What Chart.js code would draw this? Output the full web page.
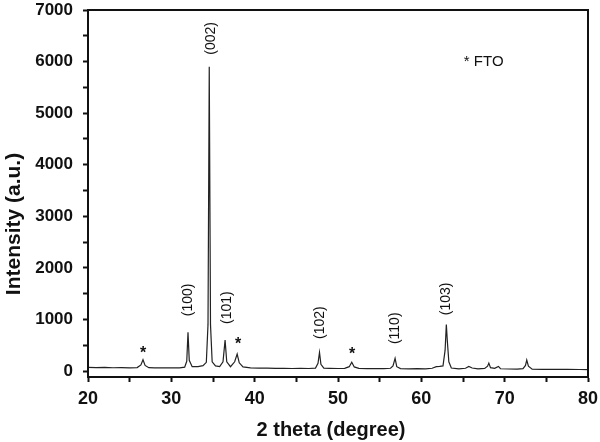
<!DOCTYPE html>
<html>
<head>
<meta charset="utf-8">
<script src="https://cdn.jsdelivr.net/npm/chart.js@4/dist/chart.umd.min.js"></script>
<style>
  html, body { margin: 0; padding: 0; background: #fff; }
  #wrap { width: 600px; height: 442px; }
</style>
</head>
<body>
<div id="wrap"><canvas id="xrd"></canvas></div>
<script>
// XRD pattern
const twoTheta = [20.0, 21.0, 22.0, 23.0, 24.0, 25.0, 25.9, 26.35, 26.6, 26.85, 27.3, 28.0, 29.0, 30.0, 31.0,
  31.6, 31.85, 32.0, 32.15, 32.5, 33.2, 33.8, 34.2, 34.4, 34.55, 34.7, 34.9, 35.3, 35.8, 36.2,
  36.45, 36.65, 37.1, 37.6, 37.9, 38.15, 38.6, 39.5, 40.5, 41.5, 42.5, 43.5, 44.5, 45.5, 46.5,
  47.3, 47.6, 47.78, 47.95, 48.3, 49.0, 50.0, 50.8, 51.35, 51.65, 51.95, 52.5, 53.5, 54.5, 55.5,
  56.3, 56.6, 56.85, 57.05, 57.5, 58.5, 59.5, 60.5, 61.3, 61.8, 62.2, 62.6, 62.85, 63.0, 63.12,
  63.3, 63.6, 64.5, 65.3, 65.7, 66.1, 66.8, 67.6, 67.95, 68.1, 68.3, 68.8, 69.25, 69.5, 70.5,
  71.5, 72.2, 72.5, 72.65, 72.85, 73.3, 74.5, 76.0, 77.5, 79.0, 80.0];
const intensity = [72, 68, 70, 64, 66, 62, 68, 120, 220, 110, 66, 62, 64, 60, 62,
  75, 190, 750, 210, 85, 85, 105, 170, 900, 5900, 900, 180, 100, 85, 180,
  600, 180, 85, 180, 330, 160, 80, 62, 56, 58, 52, 55, 50, 54, 50,
  58, 150, 360, 130, 55, 52, 50, 54, 85, 170, 80, 52, 48, 50, 46,
  55, 100, 245, 85, 48, 44, 46, 44, 55, 85, 90, 100, 400, 900, 580,
  180, 60, 44, 55, 90, 60, 44, 52, 95, 155, 65, 52, 90, 45, 40,
  38, 48, 110, 215, 95, 38, 34, 32, 33, 30, 28];

const hklLabels = ['(100)', '(002)', '(101)', '(102)', '(110)', '(103)'];
const hklX = [32.0, 34.75, 36.7, 47.8, 56.8, 63.0];
const hklY = [1380, 6450, 1230, 940, 830, 1400];

const starX = [26.6, 38.0, 51.7];
const starY = [400, 580, 385];

const xTicks = [20, 25, 30, 35, 40, 45, 50, 55, 60, 65, 70, 75, 80];
const yTicks = [0, 500, 1000, 1500, 2000, 2500, 3000, 3500, 4000, 4500, 5000, 5500, 6000, 6500, 7000];

const points = twoTheta.map((t, i) => ({ x: t, y: intensity[i] }));

const FONT = '"Liberation Sans", Arial, sans-serif';

const annotate = {
  id: 'annotate',
  afterDraw(chart) {
    const { ctx, chartArea: a, scales: { x, y } } = chart;
    ctx.save();
    // frame
    ctx.strokeStyle = '#111';
    ctx.lineWidth = 2;
    ctx.strokeRect(a.left, a.top, a.right - a.left, a.bottom - a.top);

    ctx.fillStyle = '#111';
    ctx.textAlign = 'center';
    ctx.textBaseline = 'middle';

    // axis titles
    ctx.font = 'bold 20px ' + FONT;
    ctx.fillText('2 theta (degree)', 331, 430);
    ctx.save();
    ctx.translate(14, 224);
    ctx.rotate(-Math.PI / 2);
    ctx.font = 'bold 21px ' + FONT;
    ctx.fillText('Intensity (a.u.)', 0, 0);
    ctx.restore();

    // hkl labels, rotated
    ctx.font = '14px ' + FONT;
    hklLabels.forEach((lab, i) => {
      ctx.save();
      ctx.translate(x.getPixelForValue(hklX[i]), y.getPixelForValue(hklY[i]));
      ctx.rotate(-Math.PI / 2);
      ctx.fillText(lab, 0, 0);
      ctx.restore();
    });

    // FTO stars
    ctx.font = 'bold 16px ' + FONT;
    starX.forEach((sx, i) => {
      ctx.fillText('*', x.getPixelForValue(sx), y.getPixelForValue(starY[i]) + 3);
    });

    // legend note
    ctx.textAlign = 'left';
    ctx.font = '15px ' + FONT;
    ctx.fillText('* FTO', x.getPixelForValue(65.1), y.getPixelForValue(5990));
    ctx.restore();
  }
};

new Chart(document.getElementById('xrd'), {
  type: 'line',
  data: {
    datasets: [{
      data: points,
      borderColor: '#222',
      borderWidth: 1.2,
      pointRadius: 0,
      tension: 0,
      fill: false,
    }],
  },
  options: {
    responsive: true,
    maintainAspectRatio: false,
    animation: false,
    layout: { padding: { top: 10, right: 12, left: 0, bottom: 0 } },
    plugins: { legend: { display: false }, tooltip: { enabled: false } },
    scales: {
      x: {
        type: 'linear',
        min: 20,
        max: 80,
        afterBuildTicks: axis => { axis.ticks = xTicks.map(v => ({ value: v })); },
        afterFit: axis => { axis.height = 65; axis.paddingLeft = 0; axis.paddingRight = 0; },
        border: { color: '#111', width: 2 },
        grid: { drawOnChartArea: false, tickLength: 5, tickColor: '#111', tickWidth: 2 },
        ticks: {
          autoSkip: false,
          maxRotation: 0,
          padding: 6,
          color: '#111',
          font: { family: FONT, size: 18, weight: 'bold' },
          callback: v => (v % 10 === 0 ? v : ''),
        },
      },
      y: {
        min: -115,
        max: 7000,
        afterBuildTicks: axis => { axis.ticks = yTicks.map(v => ({ value: v })); },
        afterFit: axis => { axis.width = 88; axis.paddingTop = 0; axis.paddingBottom = 0; },
        border: { color: '#111', width: 2 },
        grid: { drawOnChartArea: false, tickLength: 5, tickColor: '#111', tickWidth: 2 },
        ticks: {
          autoSkip: false,
          padding: 10,
          color: '#111',
          font: { family: FONT, size: 17, weight: 'bold' },
          callback: v => (v % 1000 === 0 ? v : ''),
        },
      },
    },
  },
  plugins: [annotate],
});
</script>
</body>
</html>
